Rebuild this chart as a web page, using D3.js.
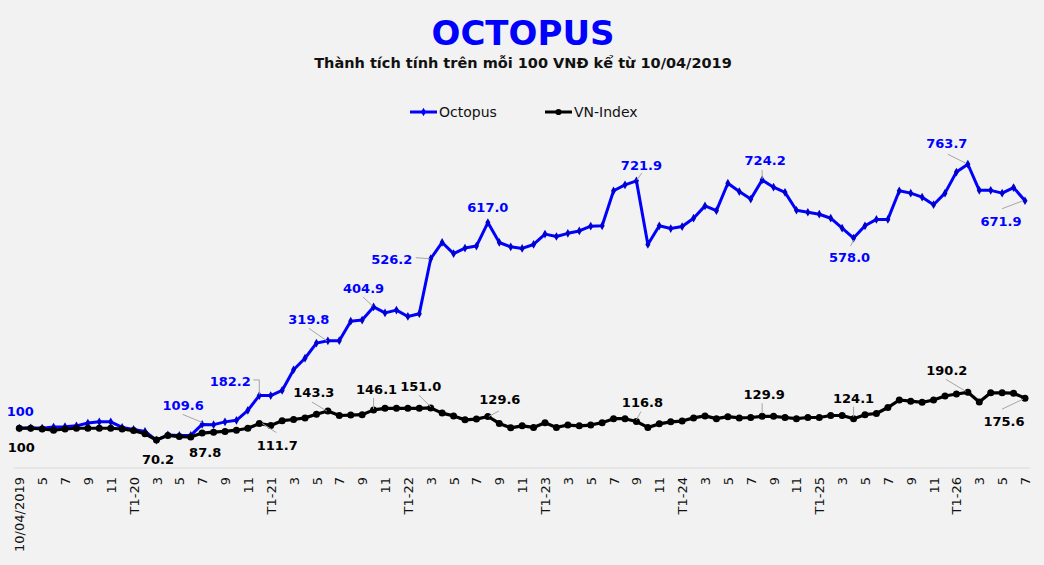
<!DOCTYPE html>
<html>
<head>
<meta charset="utf-8">
<script src="https://cdn.jsdelivr.net/npm/d3@7"></script>
<style>
    body { margin: 0; background: #f2f2f2; }
    svg { display: block; }
</style>
</head>
<body>
<div id="chartContainer"></div>
<script>
// Category labels (one per data point, every other one is shown)
var categories = [
    "10/04/2019", "4", "5", "6", "7", "8", "9", "10", "11", "12",
    "T1-20", "2", "3", "4", "5", "6", "7", "8", "9", "10", "11", "12",
    "T1-21", "2", "3", "4", "5", "6", "7", "8", "9", "10", "11", "12",
    "T1-22", "2", "3", "4", "5", "6", "7", "8", "9", "10", "11", "12",
    "T1-23", "2", "3", "4", "5", "6", "7", "8", "9", "10", "11", "12",
    "T1-24", "2", "3", "4", "5", "6", "7", "8", "9", "10", "11", "12",
    "T1-25", "2", "3", "4", "5", "6", "7", "8", "9", "10", "11", "12",
    "T1-26", "2", "3", "4", "5", "6", "7"
];

var octopus = [
    100, 101, 100, 103, 104, 106, 113, 116, 116, 102, 97, 92, 70, 83, 82, 82,
    109.6, 109, 116, 120, 145, 182.2, 182, 195, 247, 276, 314, 319.8, 320, 369,
    372, 404.9, 390, 397, 381, 388, 526.2, 567, 539, 553, 558, 617.0, 567, 556,
    552, 562, 588, 582, 590, 596, 608, 609, 697, 712, 721.9, 562, 609, 602, 607,
    628, 659, 647, 716, 695, 676, 724.2, 706, 693, 648, 643, 638, 628, 603, 578.0,
    609, 625, 625, 697, 691, 681, 662, 691, 744, 763.7, 698, 698, 691, 705, 671.9
];

var vnindex = [
    100, 100, 98, 95, 98, 100, 100, 100, 100, 98, 94, 86, 70.2, 82, 79, 78,
    87.8, 90, 92, 95, 100, 111.7, 107, 119, 122, 126, 135, 143.3, 132, 133,
    134, 146.1, 150, 150, 150, 150, 151.0, 138, 131, 121, 123, 129.6, 112, 101,
    106, 102, 114, 102, 108, 106, 108, 114, 124, 124, 116.8, 102, 111, 116, 118,
    126, 131, 124, 129, 126, 127, 129.9, 130, 127, 124, 127, 127, 132, 132, 124.1,
    134, 137, 152, 171, 168, 165, 171, 181, 186, 190.2, 166, 189, 189, 188, 175.6
];

// Which points get a value label
var octopusLabelIdx = [0, 16, 21, 27, 31, 36, 41, 54, 65, 73, 83, 88];
var vnindexLabelIdx = [0, 12, 16, 21, 27, 31, 36, 41, 54, 65, 73, 83, 88];

function init() {
    var w = 1044;
    var h = 565;
    var blue = "#0000ff";

    var svg = d3.select("#chartContainer")
                .append("svg")
                .attr("width", w)
                .attr("height", h);

    svg.append("rect")
       .attr("width", w)
       .attr("height", h)
       .attr("fill", "#f2f2f2");

    var idx = d3.range(categories.length);

    var x = d3.scalePoint()
              .domain(idx)
              .range([19.3, 1025]);

    var y = d3.scaleLinear()
              .domain([0, 800])
              .range([468, 149.8]);

    // Title
    svg.append("text")
       .attr("x", 523)
       .attr("y", 45)
       .attr("text-anchor", "middle")
       .style("font", "bold 34px 'DejaVu Sans'")
       .attr("fill", blue)
       .text("OCTOPUS");

    svg.append("text")
       .attr("x", 523)
       .attr("y", 68)
       .attr("text-anchor", "middle")
       .style("font", "bold 14.5px 'DejaVu Sans'")
       .attr("fill", "#111")
       .text("Thành tích tính trên mỗi 100 VNĐ kể từ 10/04/2019");

    // Legend
    var legend = [
        { name: "Octopus", color: blue, symbol: d3.symbolDiamond, size: 22, x: 410 },
        { name: "VN-Index", color: "#000", symbol: d3.symbolCircle, size: 30, x: 545 }
    ];
    legend.forEach(function(d) {
        svg.append("line")
           .attr("x1", d.x).attr("x2", d.x + 27)
           .attr("y1", 112).attr("y2", 112)
           .attr("stroke", d.color)
           .attr("stroke-width", 3);
        svg.append("path")
           .attr("d", d3.symbol().type(d.symbol).size(d.size)())
           .attr("transform", "translate(" + (d.x + 13.5) + ",112)")
           .attr("fill", d.color);
        svg.append("text")
           .attr("x", d.x + 29)
           .attr("y", 117)
           .style("font", "14px 'DejaVu Sans'")
           .attr("fill", "#111")
           .text(d.name);
    });

    // x axis line
    svg.append("line")
       .attr("x1", 14).attr("x2", 1030)
       .attr("y1", y(0)).attr("y2", y(0))
       .attr("stroke", "#d9d9d9")
       .attr("stroke-width", 1);

    // Tick labels, every second category
    var xAxis = d3.axisBottom(x)
                  .tickValues(idx.filter(function(i) { return i % 2 === 0; }))
                  .tickFormat(function(i) { return categories[i]; })
                  .tickSize(0);

    var gx = svg.append("g")
                .attr("transform", "translate(0," + y(0) + ")")
                .call(xAxis);
    gx.select(".domain").remove();
    gx.selectAll("text")
      .attr("transform", "rotate(-90)")
      .attr("x", -9)
      .attr("y", 0)
      .attr("dy", "0.35em")
      .attr("text-anchor", "end")
      .style("font", "13px 'DejaVu Sans'")
      .attr("fill", "#111");

    var line = d3.line()
                 .x(function(d, i) { return x(i); })
                 .y(function(d) { return y(d); });

    // Octopus series
    svg.append("path")
       .datum(octopus)
       .attr("d", line)
       .attr("fill", "none")
       .attr("stroke", blue)
       .attr("stroke-width", 3)
       .attr("stroke-linejoin", "round");

    svg.selectAll(".octo-pt")
       .data(octopus)
       .enter()
       .append("path")
       .attr("class", "octo-pt")
       .attr("d", d3.symbol().type(d3.symbolDiamond).size(22)())
       .attr("transform", function(d, i) { return "translate(" + x(i) + "," + y(d) + ")"; })
       .attr("fill", "#0000cc");

    // VN-Index series
    svg.append("path")
       .datum(vnindex)
       .attr("d", line)
       .attr("fill", "none")
       .attr("stroke", "#000")
       .attr("stroke-width", 3.2)
       .attr("stroke-linejoin", "round");

    svg.selectAll(".vn-pt")
       .data(vnindex)
       .enter()
       .append("circle")
       .attr("class", "vn-pt")
       .attr("cx", function(d, i) { return x(i); })
       .attr("cy", function(d) { return y(d); })
       .attr("r", 3.5)
       .attr("fill", "#000");

    // Label placement: text offset and leader line relative to the point
    var octoPlace = {
        0:  { dx: 1,   dy: -12 },
        16: { dx: -19, dy: -14, lead: [[-19.5, -10], [0, -2]] },
        21: { dx: -29, dy: -10, lead: [[-6, -15.6], [0, -15.6], [0, -1]] },
        27: { dx: -19, dy: -17, lead: [[-19, -12.5], [-1, 0]] },
        31: { dx: -10, dy: -14, lead: [[-10.6, -10], [-1, -1]] },
        36: { dx: -39, dy: 5,   lead: [[-15, -1], [-1, 0]] },
        41: { dx: 0,   dy: -11 },
        54: { dx: 5,   dy: -11, lead: [[5.5, -8], [0.5, -1]] },
        65: { dx: 3,   dy: -15, lead: [[0, -10], [0, -1]] },
        73: { dx: -4,  dy: 24,  lead: [[-3, 8], [0, 2]] },
        83: { dx: -21, dy: -16, lead: [[-20, -10], [-2, -1]] },
        88: { dx: -24, dy: 25,  lead: [[-23, 8], [-2, 0]] }
    };
    var vnPlace = {
        0:  { dx: 2,   dy: 24 },
        12: { dx: 1.5, dy: 24 },
        16: { dx: 3,   dy: 24 },
        21: { dx: 18,  dy: 26, lead: [[17, 9], [3, 0]] },
        27: { dx: -14, dy: -14, lead: [[-16, -9], [-1, 0]] },
        31: { dx: 3,   dy: -16, lead: [[0, -12], [0, -1]] },
        36: { dx: -10, dy: -17, lead: [[-12, -13], [0, -1]] },
        41: { dx: 12,  dy: -12, lead: [[11, -5.5], [1, 0]] },
        54: { dx: 6,   dy: -15, lead: [[4.5, -10], [0, -1.6]] },
        65: { dx: 2,   dy: -17, lead: [[0, -13], [0, -3]] },
        73: { dx: 0,   dy: -16, lead: [[0, -12], [0, -2]] },
        83: { dx: -21, dy: -17, lead: [[-22, -13], [-2, -1]] },
        88: { dx: -21, dy: 28,  lead: [[-23, 11], [-2, 1]] }
    };

    function fmt(v) {
        return v === 100 ? "100" : v.toFixed(1);
    }

    function drawLabels(values, labelIdx, place, color) {
        labelIdx.forEach(function(i) {
            var px = x(i), py = y(values[i]);
            var p = place[i];
            if (p.lead) {
                svg.append("path")
                   .attr("d", d3.line()(p.lead.map(function(o) { return [px + o[0], py + o[1]]; })))
                   .attr("fill", "none")
                   .attr("stroke", "#a6a6a6")
                   .attr("stroke-width", 1);
            }
            svg.append("text")
               .attr("x", px + p.dx)
               .attr("y", py + p.dy)
               .attr("text-anchor", "middle")
               .style("font", "bold 13px 'DejaVu Sans'")
               .attr("fill", color)
               .text(fmt(values[i]));
        });
    }

    drawLabels(octopus, octopusLabelIdx, octoPlace, blue);
    drawLabels(vnindex, vnindexLabelIdx, vnPlace, "#000");
}

window.onload = init;
</script>
</body>
</html>
